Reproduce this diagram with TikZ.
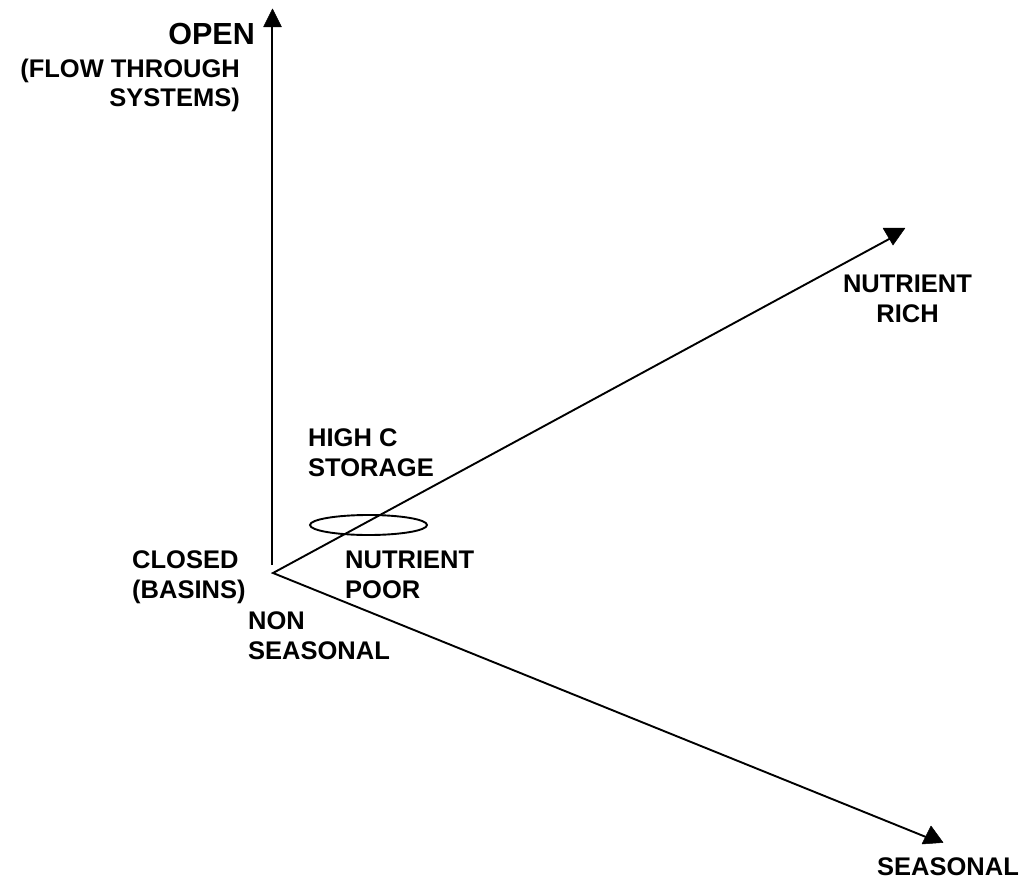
\documentclass[tikz,border=0pt]{standalone}
\usepackage{fontspec}
\setmainfont{Liberation Sans}
\usetikzlibrary{shapes.geometric}
\begin{document}
\begin{tikzpicture}[x=1pt,y=-1pt,
  axis/.style={line width=1.9pt,black},
  tip/.style={fill=black,draw=black,line width=0.5pt,line join=round},
  lbl/.style={inner sep=0pt,font=\bfseries\fontsize{25.5}{29.5}\selectfont},
  big/.style={inner sep=0pt,font=\bfseries\fontsize{30.5}{34}\selectfont}]
\useasboundingbox (0,0) rectangle (1028,880);
% axes
\coordinate (O) at (273,573);
\coordinate (Vb) at (272,565);
\coordinate (Vt) at (272,26);
\coordinate (R) at (891,238);
\coordinate (S) at (926,837);
\draw[axis] (Vb) -- (Vt);
\draw[axis,line join=miter] (R) -- (O) -- (S);
% arrowheads
\fill[tip] (263.5,27) -- (281.5,27) -- (272.5,9) -- cycle;
\fill[tip] (883,228) -- (905,228) -- (893,245) -- cycle;
\fill[tip] (922,844) -- (931,826) -- (943,842.5) -- cycle;
% ellipse
\node[draw,line width=1.9pt,ellipse,minimum width=117pt,minimum height=20pt,inner sep=0pt] (E) at (368.5,525) {};
% labels (base anchor = baseline of the last line)
\node[big,anchor=base east] (open) at (255,45) {OPEN};
\node[lbl,anchor=base east,align=right] (flow) at (240,107) {(FLOW THROUGH\\SYSTEMS)};
\node[lbl,anchor=base west,align=left] (closed) at (132,598) {CLOSED\\(BASINS)};
\node[lbl,anchor=base west,align=left] (non) at (248,659) {NON\\SEASONAL};
\node[lbl,anchor=base west,align=left] (poor) at (345,598) {NUTRIENT\\POOR};
\node[lbl,anchor=base west,align=left] (high) at (308,476) {HIGH C\\STORAGE};
\node[lbl,anchor=base,align=center] (rich) at (907.5,322) {NUTRIENT\\RICH};
\node[lbl,anchor=base west] (seas) at (877,875) {SEASONAL};
\end{tikzpicture}
\end{document}
